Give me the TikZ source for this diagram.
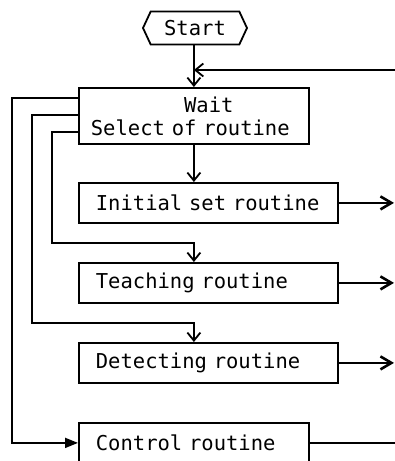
\documentclass[tikz,border=0pt]{standalone}
\usepackage{fontspec}
\setmainfont{DejaVu Sans Mono}
\usetikzlibrary{arrows.meta}
\usetikzlibrary{shapes.symbols}
\usetikzlibrary{positioning}

\newcommand{\monosize}{\fontsize{20.5}{23}\selectfont}

\begin{document}
\begin{tikzpicture}[x=1pt,y=-1pt,line width=1.8pt,
	every node/.style={font=\monosize},
	routine/.style={draw,minimum height=40pt,inner xsep=17pt,align=left,text width=#1},
	vbarb/.style={-{Straight Barb[length=8pt,width=13pt]}},
	hbarb/.style={-{Straight Barb[length=11pt,width=13pt,line width=2.6pt]}},
	tri/.style={-{Triangle[length=13pt,width=10pt]}}]
	
	\useasboundingbox (0,0) rectangle (395,461);
	
	\node [draw,shape=signal,signal to=west and east,signal pointer angle=130,minimum width=104pt,minimum height=33pt] (start) at (195,28) {Start};
	
	\node [draw,anchor=north west,minimum height=56pt,inner xsep=12pt,text width=206pt,align=left] (wait) at (78,87) {\phantom{Select o}Wait\\Select of routine};
	
	\node [routine=225pt,anchor=north west] (init) at (78,182) {Initial set routine};
	
	\node [routine=225pt,anchor=north west] (teach) at (78,262) {Teaching routine};
	
	\node [routine=225pt,anchor=north west] (detect) at (78,342) {Detecting routine};
	
	\node [routine=196pt,anchor=north west] (control) at (78,422) {Control routine};
	
	\coordinate (back) at (395,70);
	\coordinate (edge) at (394,0);
	
	% main line down
	\draw [vbarb] (wait.north |- start.south) -- (wait.north);
	\draw [vbarb] (back) -- (back -| wait.north);
	\draw [vbarb] (wait.south) -- (wait.south |- init.north);
	
	% branches on the left
	\draw [tri] ([yshift=-11pt]wait.north west) -- ++(-66,0) |- (control.west);
	\draw [vbarb] ([yshift=-28pt]wait.north west) -- ++(-46,0) |- ([yshift=19pt]wait.south |- detect.north) -- (wait.south |- detect.north);
	\draw [vbarb] ([yshift=-45pt]wait.north west) -- ++(-26,0) |- ([yshift=19pt]wait.south |- teach.north) -- (wait.south |- teach.north);
	
	% outputs to the right
	\draw [hbarb] (init.east) -- (init.east -| edge);
	\draw [hbarb] (teach.east) -- (teach.east -| edge);
	\draw [hbarb] (detect.east) -- (detect.east -| edge);
	\draw (control.east) -- (control.east -| back);
	
\end{tikzpicture}
\end{document}
